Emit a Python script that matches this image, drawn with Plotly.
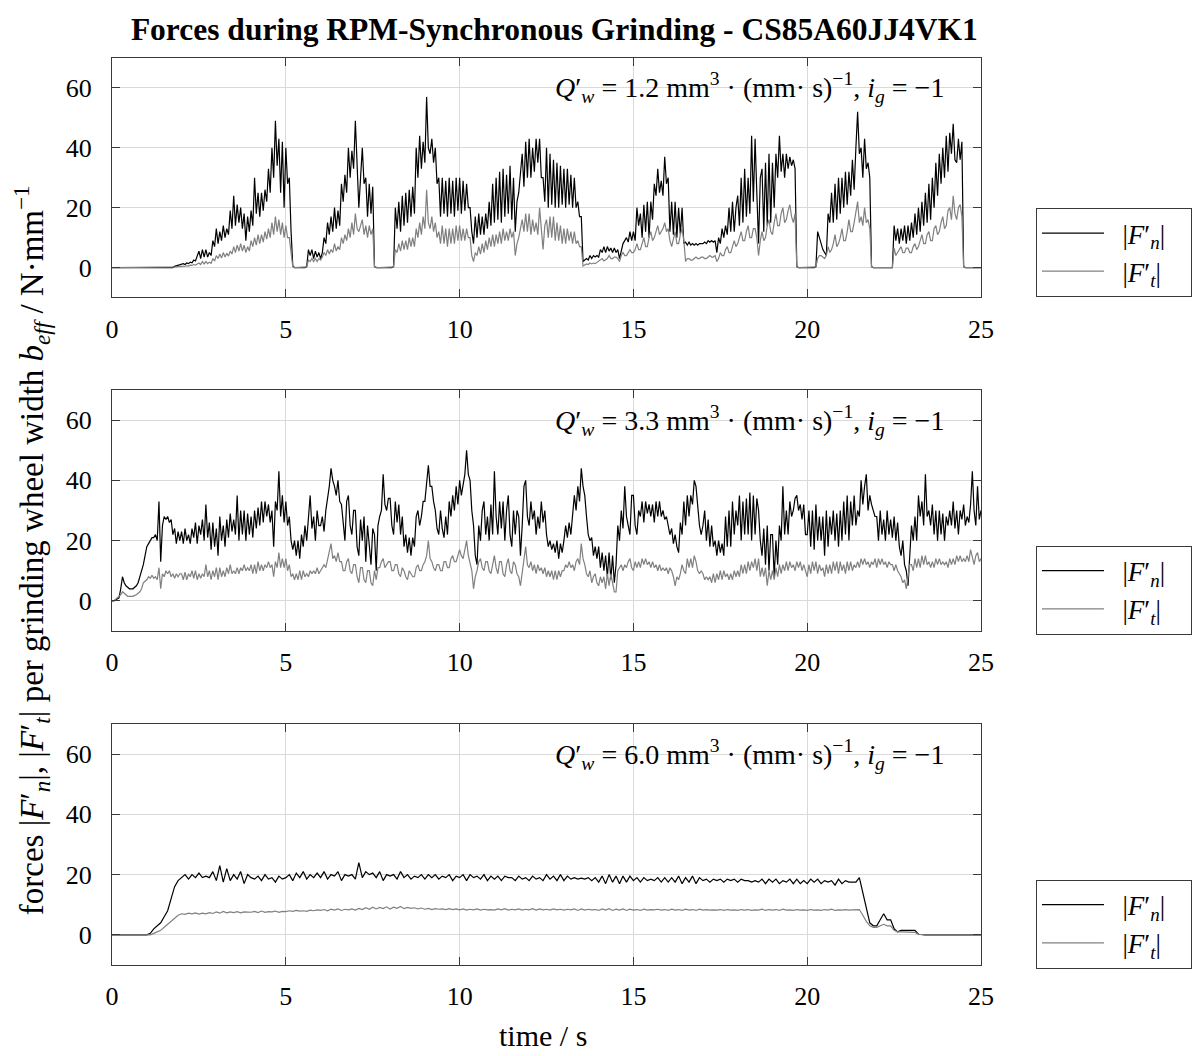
import numpy as np
import plotly.graph_objects as go

# Sampling grids of the recorded force signals
time_fine = np.round(np.arange(0, 501) * 0.05, 2)    # 0 ... 25 s, 0.05 s steps
time_coarse = np.round(np.arange(0, 251) * 0.1, 1)   # 0 ... 25 s, 0.1 s steps

# Q'w = 1.2 mm^3/(mm s): normal force per width |F'n|, N/mm (one row = 1 s)
fn_q12 = [
    0, 0, 0, 0, 0, 0, 0, 0, 0, 0, 0, 0, 0, 0, 0, 0, 0, 0, 0, 0,
    0, 0, 0, 0, 0, 0, 0, 0, 0, 0, 0, 0, 0, 0, 0, 0, 0.4, 0.6, 0.8, 0.9,
    1, 1.3, 1, 1.5, 1.3, 1.8, 1.6, 2.5, 2.2, 4, 5.5, 3, 6, 3.5, 6, 3.5, 5, 4, 9, 7,
    13, 8, 12, 9, 14, 10, 13, 11, 19, 13, 24, 14, 21, 15, 20, 13, 18, 9, 17, 12,
    19, 14, 30, 18, 25, 17, 25, 19, 26, 22, 33, 25, 40, 30, 49, 34, 43, 25, 42, 20,
    40, 28, 30, 12, 0.5, 0, 0, 0, 0, 0, 0, 0, 0.3, 6, 4, 6, 3, 5.5, 3.5, 5,
    3, 5, 10, 8, 15, 11, 17, 12, 20, 13, 19, 14, 28, 22, 31, 25, 40, 30, 39, 33,
    49, 35, 20, 30, 40, 28, 30, 17, 28, 18, 27, 0.3, 0, 0, 0, 0, 0, 0, 0, 0,
    0, 0, 0.3, 20, 13, 22, 12, 24, 14, 25, 15, 26, 17, 27, 18, 40, 30, 44, 33, 42,
    35, 57, 40, 38, 43, 35, 40, 28, 30, 17, 30, 18, 29, 17, 30, 18, 29, 17, 30, 19,
    30, 18, 29, 19, 28, 20, 20, 12, 8, 17, 10, 18, 11, 17, 11, 18, 13, 22, 14, 28,
    15, 30, 16, 32, 15, 33, 17, 31, 18, 34, 16, 30, 12, 22, 25, 32, 38, 27, 42, 30,
    43, 30, 40, 32, 43, 35, 43, 30, 30, 22, 40, 20, 38, 21, 36, 20, 35, 20, 34, 21,
    33, 20, 33, 21, 31, 20, 30, 20, 22, 17, 17, 2, 2.5, 3, 2.5, 4, 3, 4, 3.5, 4,
    3.5, 6, 5, 7, 5, 7, 5.5, 6.5, 5, 6.5, 5, 6, 3, 6, 8, 9, 10, 8.5, 12, 9,
    12, 9, 20, 14, 18, 10, 21, 12, 22, 10, 22, 16, 28, 24, 33, 25, 29, 24, 37, 28,
    30, 12, 22, 11, 22, 10, 20, 11, 20, 8, 8.5, 7.5, 8.5, 7.5, 8, 7.5, 8, 7.5, 8, 8,
    8, 8.5, 8, 9, 8.5, 9, 8.5, 9, 5, 10, 8, 13, 10, 14, 11, 20, 12, 22, 12, 20,
    24, 14, 30, 15, 33, 17, 30, 18, 44, 22, 43, 25, 8, 30, 33, 12, 35, 14, 38, 15,
    35, 20, 38, 30, 44, 32, 38, 30, 38, 33, 37, 34, 36, 33, 0.3, 0, 0, 0, 0, 0,
    0, 0, 0, 0, 0, 0.3, 12, 10, 8, 6, 5, 4, 18, 15, 25, 15, 28, 16, 30, 18,
    30, 20, 32, 21, 32, 24, 36, 26, 40, 52, 38, 40, 30, 43, 33, 35, 30, 0.3, 0, 0,
    0, 0, 0, 0, 0, 0, 0, 0, 0, 0, 14, 9, 13, 8, 13, 9, 14, 8, 14, 9,
    15, 10, 18, 11, 20, 12, 22, 14, 25, 15, 28, 16, 30, 20, 35, 24, 38, 28, 40, 30,
    44, 32, 45, 38, 48, 36, 35, 43, 36, 42, 0.3, 0, 0, 0, 0, 0, 0, 0, 0, 0,
    0,
]
# Q'w = 1.2: tangential force per width |F't|, N/mm
ft_q12 = [
    0, 0, 0, 0, 0, 0, 0, 0, 0, 0, 0, 0, 0, 0, 0, 0, 0, 0, 0, 0,
    0, 0, 0, 0, 0, 0, 0, 0, 0, 0, 0, 0, 0, 0, 0, 0, 0.1, 0.2, 0.3, 0.3,
    0.4, 0.5, 0.5, 0.6, 0.5, 0.8, 0.7, 1, 0.8, 1.2, 1.5, 1, 2, 1.2, 2, 1.3, 1.8, 1.4, 3, 2.2,
    4, 3, 4.5, 3.2, 5, 3.5, 4.8, 3.8, 5.5, 4.5, 7, 5, 7.5, 5.5, 8, 5.5, 7.5, 5, 7, 5.5,
    9, 7, 10, 7.5, 11, 8, 11, 8.5, 12, 9.5, 13, 10, 15, 11, 17, 12, 16, 11, 15, 10,
    14, 10, 10, 5, 0.3, 0, 0, 0, 0, 0, 0, 0, 0.2, 2.5, 2, 3, 2, 3, 2, 3,
    2.5, 3.5, 5, 4, 6, 4.5, 6, 5, 8, 5.5, 7, 6, 10, 8, 11, 9, 13, 10, 15, 11,
    18, 13, 12, 14, 16, 11, 14, 10, 14, 11, 13, 0.2, 0, 0, 0, 0, 0, 0, 0, 0,
    0, 0, 0.2, 6, 5, 8, 5.5, 9, 6, 9, 6, 10, 7, 10, 7, 13, 10, 15, 11, 17,
    13, 26, 15, 13, 17, 12, 15, 10, 12, 8, 14, 8, 13, 7, 13, 8, 13, 8, 14, 9,
    14, 9, 13, 9, 13, 10, 10, 4, 2, 5, 4, 7, 4.5, 8, 5, 9, 6, 10, 7, 11,
    7, 11, 8, 12, 8, 13, 9, 12, 9, 13, 10, 12, 4, 8, 10, 13, 16, 12, 18, 12,
    18, 11, 16, 12, 15, 11, 20, 13, 6, 14, 16, 10, 17, 10, 17, 9, 15, 9, 14, 8,
    13, 8, 13, 9, 12, 8, 12, 8, 9, 7, 7, 0.5, 1, 1.2, 1, 1.5, 1.2, 1.5, 1.3, 1.8,
    2, 2.5, 3, 2.2, 2.5, 3, 4, 3, 3, 3.5, 3.5, 3, 2, 4, 5, 4, 4, 5, 6, 5,
    5, 6, 8, 6, 6, 8, 10, 7, 7, 10, 12, 9, 10, 12, 14, 11, 12, 13, 15, 12,
    13, 9, 7, 10, 12, 8, 8, 11, 13, 9, 2, 3, 3, 2.5, 2.5, 3, 3.5, 3, 3, 3.5,
    3.5, 3, 3, 3.5, 4, 3.5, 3.5, 4, 2, 3, 5, 4, 4, 6, 7, 5, 5, 7, 9, 7,
    8, 10, 12, 9, 9, 12, 14, 10, 10, 13, 13, 10, 4, 9, 12, 9, 10, 14, 16, 12,
    11, 15, 18, 14, 14, 18, 20, 15, 16, 19, 21, 17, 15, 18, 0.2, 0, 0, 0, 0, 0,
    0, 0, 0, 0, 0, 0.2, 3, 4, 4, 3.5, 3, 4, 7, 5, 6, 8, 11, 7, 8, 10,
    13, 9, 9, 12, 16, 12, 12, 15, 18, 22, 15, 17, 14, 20, 15, 16, 13, 0.2, 0, 0,
    0, 0, 0, 0, 0, 0, 0, 0, 0, 0, 6.5, 4, 5, 6, 7, 5, 5, 6.5, 6.5, 5,
    5, 7, 8, 6, 7, 9, 11, 8, 8, 11, 12, 9, 9, 13, 14, 11, 12, 15, 17, 13,
    14, 19, 20, 16, 24, 18, 16, 20, 21, 17, 0.2, 0, 0, 0, 0, 0, 0, 0, 0, 0,
    0,
]

# Q'w = 3.3 mm^3/(mm s): |F'n|, N/mm
fn_q33 = [
    0, 0, 0.3, 0.6, 1, 4, 8, 6, 5, 4.5, 4, 4, 4, 4.5, 5, 6, 8, 10, 12, 15,
    18, 19, 20, 21, 21, 22, 20, 33, 13, 25, 28, 27, 28, 26, 27, 22, 24, 19, 23, 20,
    23, 19, 24, 20, 22, 19, 24, 21, 26, 19, 25, 22, 27, 20, 32, 21, 26, 17, 26, 18,
    24, 15, 28, 20, 25, 18, 27, 21, 29, 23, 27, 22, 35, 20, 30, 22, 30, 20, 29, 22,
    28, 21, 30, 24, 31, 25, 33, 26, 33, 28, 32, 26, 30, 18, 33, 30, 43, 28, 35, 26,
    33, 25, 28, 20, 17, 20, 15, 20, 14, 22, 18, 25, 20, 28, 35, 24, 28, 20, 30, 25,
    25, 28, 23, 30, 34, 38, 44, 40, 38, 35, 40, 33, 32, 25, 20, 33, 35, 25, 22, 30,
    30, 18, 15, 27, 20, 28, 13, 25, 18, 12, 24, 22, 10, 25, 28, 30, 42, 32, 30, 34,
    34, 25, 22, 33, 26, 32, 22, 28, 18, 22, 16, 21, 15, 21, 18, 28, 30, 25, 28, 33,
    33, 40, 45, 38, 38, 33, 30, 24, 22, 30, 24, 21, 28, 22, 33, 28, 35, 30, 38, 32,
    40, 35, 38, 42, 50, 42, 40, 30, 25, 15, 12, 25, 20, 30, 33, 22, 28, 20, 32, 22,
    43, 28, 22, 33, 24, 33, 20, 30, 35, 22, 18, 30, 22, 30, 28, 15, 25, 38, 40, 28,
    25, 33, 27, 30, 22, 28, 24, 33, 26, 30, 22, 18, 20, 17, 19, 16, 20, 14, 19, 16,
    20, 25, 21, 26, 22, 28, 35, 30, 38, 33, 44, 38, 35, 28, 22, 20, 21, 15, 18, 14,
    18, 11, 16, 10, 15, 8, 16, 7, 15, 6, 12, 25, 20, 30, 24, 38, 28, 25, 22, 35,
    35, 25, 22, 30, 28, 33, 26, 33, 29, 32, 28, 32, 26, 33, 28, 33, 28, 30, 27, 28,
    25, 22, 24, 19, 22, 18, 16, 26, 22, 33, 25, 35, 28, 35, 32, 40, 38, 30, 25, 22,
    25, 30, 20, 27, 18, 25, 18, 20, 15, 20, 16, 19, 15, 28, 18, 30, 18, 33, 22, 30,
    25, 35, 20, 33, 22, 34, 22, 36, 20, 35, 22, 34, 30, 20, 15, 24, 12, 25, 10, 22,
    22, 8, 20, 12, 25, 20, 38, 22, 30, 22, 33, 28, 30, 34, 35, 30, 32, 27, 32, 22,
    22, 30, 18, 30, 17, 32, 20, 28, 20, 28, 15, 30, 18, 28, 22, 30, 20, 29, 18, 30,
    20, 33, 22, 35, 20, 33, 25, 35, 25, 30, 28, 40, 32, 38, 42, 30, 35, 32, 30, 28,
    28, 20, 30, 22, 27, 20, 30, 22, 27, 21, 28, 20, 26, 18, 15, 20, 12, 10, 5, 15,
    25, 20, 28, 20, 35, 28, 33, 25, 42, 28, 30, 25, 32, 22, 30, 20, 30, 22, 29, 20,
    28, 25, 30, 25, 33, 24, 30, 22, 30, 27, 32, 25, 28, 26, 32, 43, 30, 25, 38, 27,
    30,
]
# Q'w = 3.3: |F't|, N/mm
ft_q33 = [
    0, 0, 0.5, 1, 1.5, 2, 3, 2.5, 2, 1.5, 1.5, 1.5, 1.5, 1.8, 2, 2.5, 3, 4, 6, 6.5,
    7, 8, 7.5, 8.5, 7.5, 8, 7, 11, 4, 9, 8, 10, 9, 10, 8, 9, 7.5, 9, 8, 9,
    9, 7, 9.5, 7, 9, 8, 10, 7.5, 10, 7, 9, 7.5, 9, 8, 12, 8, 10, 7, 10, 8,
    11, 7, 11, 8, 10, 8, 11, 9, 12, 9, 10, 9, 11, 9, 11, 10, 12, 10, 11, 10,
    12, 9, 12, 9, 13, 10, 12, 10, 12, 11, 13, 11, 12, 8, 13, 11, 16, 11, 14, 11,
    14, 10, 12, 8, 9, 7, 9, 7, 10, 7, 10, 8, 9, 8, 10, 9, 10, 9, 11, 9,
    10, 11, 12, 11, 14, 16, 19, 14, 15, 13, 16, 13, 13, 10, 10, 13, 14, 10, 9, 12,
    12, 8, 6, 11, 11, 7, 6, 10, 10, 6, 5, 10, 7, 11, 11, 13, 14, 11, 12, 13,
    13, 10, 10, 12, 12, 9, 8, 11, 10, 8, 7, 10, 9, 8, 8, 11, 12, 10, 10, 12,
    13, 15, 20, 14, 13, 11, 10, 12, 12, 10, 10, 13, 13, 11, 11, 14, 15, 13, 13, 15,
    17, 15, 14, 17, 20, 15, 12, 10, 4, 8, 10, 13, 14, 11, 10, 13, 13, 10, 9, 12,
    15, 11, 9, 13, 13, 9, 8, 12, 14, 10, 9, 13, 12, 9, 8, 5, 10, 15, 18, 12,
    11, 13, 10, 12, 9, 12, 10, 11, 9, 11, 8, 10, 8, 10, 7, 10, 7, 10, 8, 10,
    10, 12, 11, 13, 11, 12, 10, 13, 14, 12, 19, 14, 12, 9, 8, 10, 6, 8, 9, 6,
    5, 8, 6, 8, 4, 9, 5, 9, 6, 3, 3, 10, 11, 12, 10, 12, 11, 13, 14, 11,
    10, 13, 11, 13, 11, 14, 12, 14, 12, 13, 11, 13, 11, 12, 10, 12, 10, 11, 10, 11,
    9, 11, 10, 8, 5, 8, 7, 9, 12, 10, 9, 14, 11, 14, 11, 15, 13, 10, 9, 10,
    9, 7, 8, 7, 8, 6, 9, 6, 9, 7, 10, 7, 10, 8, 9, 7, 9, 7, 10, 8,
    10, 8, 12, 9, 12, 9, 13, 10, 13, 11, 14, 10, 14, 8, 11, 8, 11, 5, 10, 7,
    10, 7, 11, 8, 12, 9, 12, 10, 13, 10, 13, 11, 12, 10, 13, 11, 13, 10, 12, 10,
    8, 12, 9, 13, 10, 13, 9, 12, 10, 11, 8, 12, 9, 12, 9, 13, 10, 13, 9, 13,
    10, 12, 9, 13, 10, 13, 10, 12, 11, 13, 11, 14, 12, 14, 12, 13, 11, 13, 12, 14,
    11, 14, 12, 14, 12, 13, 11, 13, 12, 12, 10, 12, 10, 9, 8, 6, 7, 4, 8, 12,
    12, 10, 14, 11, 14, 11, 15, 12, 15, 12, 13, 11, 13, 11, 14, 12, 14, 12, 13, 12,
    13, 11, 14, 12, 14, 12, 15, 13, 15, 13, 14, 13, 15, 13, 17, 14, 12, 15, 16, 13,
    14,
]

# Q'w = 6.0 mm^3/(mm s): |F'n|, N/mm (one row = 1 s, 0.1 s steps)
fn_q60 = [
    0, 0, 0, 0, 0, 0, 0, 0, 0, 0,
    0, 0.5, 2, 3, 4, 6, 8, 12, 16, 18,
    19, 20, 18.5, 20, 19, 20.5, 19, 19.5, 19, 21,
    18, 23, 17.5, 22, 18, 20, 18.5, 21, 17, 20,
    19, 18.5, 19.5, 18, 20, 18.5, 19, 17.5, 19.5, 18.5,
    19, 20, 18, 20.5, 19, 21, 18.5, 20, 19, 20.5,
    19, 21, 18.5, 20, 19.5, 21, 18, 20, 19.5, 20,
    18.5, 24, 19, 21, 20, 20.5, 19, 21, 18, 20,
    19.5, 20, 18.5, 21, 19, 20, 18.5, 19.5, 19, 20,
    18.5, 20, 19, 20, 18.5, 19.5, 19, 20, 18, 19.5,
    19, 20, 18, 20, 19, 19.5, 18.5, 20, 18, 19.5,
    18.5, 19.5, 18, 19.5, 19, 19, 18, 19.5, 18.5, 19,
    18, 19.5, 18.5, 19, 18, 20, 18.5, 19.5, 18, 20,
    18, 19.5, 18.5, 19, 18.5, 18.8, 18.5, 19, 18, 19,
    17.5, 19.5, 17, 20, 17.5, 19.5, 17, 19.5, 17.5, 19.5,
    18, 19, 17.5, 19, 18, 18.5, 18, 19, 17.5, 19,
    17.5, 19, 17.5, 19.5, 17, 19, 17.5, 19.5, 17, 19,
    18, 18.5, 17.5, 18.5, 18, 18.5, 17.5, 18.5, 18, 18.5,
    17.5, 18.5, 18, 18, 17.5, 18, 17.5, 18.5, 17, 18.5,
    17.5, 18.5, 17, 18, 17.5, 18.5, 17, 18.5, 17, 18,
    17, 18.5, 17.5, 18.5, 17, 18, 17.5, 18, 16.5, 18.5,
    17, 18, 17.5, 17.5, 17.5, 19, 14, 8, 4, 3,
    3, 5, 7, 5, 5, 2, 1, 1.5, 1.5, 1.5,
    1.5, 1.5, 0.2, 0, 0, 0, 0, 0, 0, 0,
    0, 0, 0, 0, 0, 0, 0, 0, 0, 0,
    0,
]
# Q'w = 6.0: |F't|, N/mm
ft_q60 = [
    0, 0, 0, 0, 0, 0, 0, 0, 0, 0,
    0, 0, 0.5, 1, 1.5, 2.5, 3.5, 4.5, 5.5, 6.5,
    7, 6.8, 7.2, 7, 7.3, 6.9, 7.2, 7, 7.4, 7.1,
    7.6, 7.2, 7.8, 7.3, 7.6, 7.4, 7.7, 7.3, 7.6, 7.5,
    7.5, 7.8, 7.4, 7.9, 7.5, 7.7, 7.6, 7.9, 7.5, 7.8,
    7.7, 8, 7.8, 8.1, 7.9, 8, 7.8, 8.2, 8, 8.3,
    8.1, 8.4, 8, 8.5, 8.2, 8.6, 8.1, 8.5, 8.3, 8.6,
    8.2, 8.8, 8.4, 9, 8.5, 9.2, 8.6, 9.1, 8.7, 9.3,
    8.6, 9.2, 8.8, 9.4, 8.7, 9.1, 8.8, 9, 8.6, 8.9,
    8.5, 8.8, 8.4, 8.7, 8.5, 8.6, 8.4, 8.7, 8.4, 8.6,
    8.3, 8.6, 8.2, 8.5, 8.3, 8.6, 8.2, 8.5, 8.3, 8.4,
    8.2, 8.6, 8.3, 8.7, 8.2, 8.5, 8.3, 8.6, 8.2, 8.5,
    8.3, 8.7, 8.2, 8.6, 8.3, 8.5, 8.2, 8.6, 8.3, 8.5,
    8.2, 8.5, 8.3, 8.6, 8.1, 8.6, 8.2, 8.5, 8.3, 8.4,
    8.1, 8.6, 8.2, 8.7, 8.1, 8.5, 8.2, 8.6, 8.1, 8.5,
    8.2, 8.4, 8.1, 8.5, 8.2, 8.4, 8.3, 8.5, 8.2, 8.4,
    8.1, 8.5, 8.2, 8.4, 8.1, 8.5, 8.2, 8.4, 8.1, 8.5,
    8.2, 8.4, 8.2, 8.3, 8.2, 8.4, 8.1, 8.4, 8.2, 8.3,
    8.1, 8.4, 8.2, 8.4, 8.1, 8.3, 8.2, 8.5, 8.1, 8.4,
    8.2, 8.4, 8.1, 8.5, 8.2, 8.3, 8.1, 8.4, 8.2, 8.3,
    8.1, 8.4, 8.2, 8.3, 8.1, 8.4, 8.2, 8.5, 8.1, 8.3,
    8.2, 8.4, 8.2, 8.3, 8.3, 8.4, 6.5, 4.5, 3, 2.5,
    2.5, 3, 3.5, 3, 3, 1.5, 1, 1, 1, 1,
    1, 0.8, 0.2, 0, 0, 0, 0, 0, 0, 0,
    0, 0, 0, 0, 0, 0, 0, 0, 0, 0,
    0,
]

panel_labels = ["1.2", "3.3", "6.0"]
panel_time = [time_fine, time_fine, time_coarse]
fn_series = [fn_q12, fn_q33, fn_q60]
ft_series = [ft_q12, ft_q33, ft_q60]

x_ticks = [0, 5, 10, 15, 20, 25]
y_ticks = [0, 20, 40, 60]

SERIF = "Liberation Serif"
FN_COLOR = "#000000"
FT_COLOR = "#808080"
FRAME = "#3a3a3a"
NBSP = "\u00a0"

# Panel geometry (paper fractions)
x_domain = [0.0940, 0.8230]
y_domains = [[0.7183, 0.9451], [0.4025, 0.6307], [0.0862, 0.3144]]
legend_tops = [0.8030, 0.4833, 0.1670]

fig = go.Figure()

for k in range(3):
    suffix = "" if k == 0 else str(k + 1)
    legend_name = "legend" + suffix
    fig.add_trace(go.Scatter(
        x=panel_time[k], y=fn_series[k], mode="lines",
        line=dict(color=FN_COLOR, width=1.2),
        name=NBSP * 2 + "|<i>F</i>′<sub><i>n</i></sub>|" + NBSP * 3,
        xaxis="x" + suffix, yaxis="y" + suffix, legend=legend_name,
    ))
    fig.add_trace(go.Scatter(
        x=panel_time[k], y=ft_series[k], mode="lines",
        line=dict(color=FT_COLOR, width=1.2),
        name=NBSP * 2 + "|<i>F</i>′<sub><i>t</i></sub>|" + NBSP * 3,
        xaxis="x" + suffix, yaxis="y" + suffix, legend=legend_name,
    ))


def axis_style():
    return dict(
        showline=True, linecolor=FRAME, linewidth=1, mirror="ticks",
        ticks="inside", ticklen=8, tickcolor=FRAME, tickwidth=1,
        showgrid=True, gridcolor="#d9d9d9", gridwidth=1,
        zeroline=False,
        tickfont=dict(family=SERIF, size=26, color="#000000"),
    )


layout = dict(
    width=1192, height=1056,
    margin=dict(l=0, r=0, t=0, b=0, autoexpand=False),
    paper_bgcolor="white", plot_bgcolor="white",
    font=dict(family=SERIF, size=26, color="#000000"),
    showlegend=True,
    title=dict(
        text="<b>Forces during RPM-Synchronous Grinding - CS85A60JJ4VK1</b>",
        x=0.465, xanchor="center", y=0.973, yanchor="middle",
        font=dict(family=SERIF, size=31.5, color="#000000"),
    ),
    annotations=[],
)

for k in range(3):
    suffix = "" if k == 0 else str(k + 1)
    layout["xaxis" + suffix] = dict(
        axis_style(), domain=x_domain, range=[0, 25], tickvals=x_ticks,
        anchor="y" + suffix, ticklabelstandoff=8,
    )
    layout["yaxis" + suffix] = dict(
        axis_style(), domain=y_domains[k], range=[-10, 70], tickvals=y_ticks,
        anchor="x" + suffix, ticklabelstandoff=14,
    )
    layout["legend" + suffix] = dict(
        x=0.8691, xanchor="left", y=legend_tops[k], yanchor="top",
        bgcolor="white", bordercolor=FRAME, borderwidth=1,
        font=dict(family=SERIF, size=27, color="#000000"),
        itemwidth=62, tracegroupgap=0,
    )
    layout["annotations"].append(dict(
        text=("<i>Q</i>′<sub><i>w</i></sub> = " + panel_labels[k]
              + " mm<sup>3</sup> · (mm· s)<sup>−1</sup>, <i>i</i><sub><i>g</i></sub> = −1"),
        xref="x" + suffix, yref="y" + suffix, x=24.0, y=60,
        xanchor="right", yanchor="middle", showarrow=False,
        font=dict(family=SERIF, size=28, color="#000000"),
    ))

layout["annotations"].append(dict(
    text=("forces |<i>F</i>′<sub><i>n</i></sub>|, |<i>F</i>′<sub><i>t</i></sub>| "
          "per grinding wheel width <i>b</i><sub><i>eff</i></sub> / N·mm<sup>−1</sup>"),
    xref="paper", yref="paper", x=0.026, y=0.479,
    xanchor="center", yanchor="middle", textangle=-90, showarrow=False,
    font=dict(family=SERIF, size=33, color="#000000"),
))
layout["annotations"].append(dict(
    text="time / s",
    xref="paper", yref="paper", x=0.4555, y=0.002,
    xanchor="center", yanchor="bottom", showarrow=False,
    font=dict(family=SERIF, size=30, color="#000000"),
))

fig.update_layout(**layout)
fig.write_html("out.html")
